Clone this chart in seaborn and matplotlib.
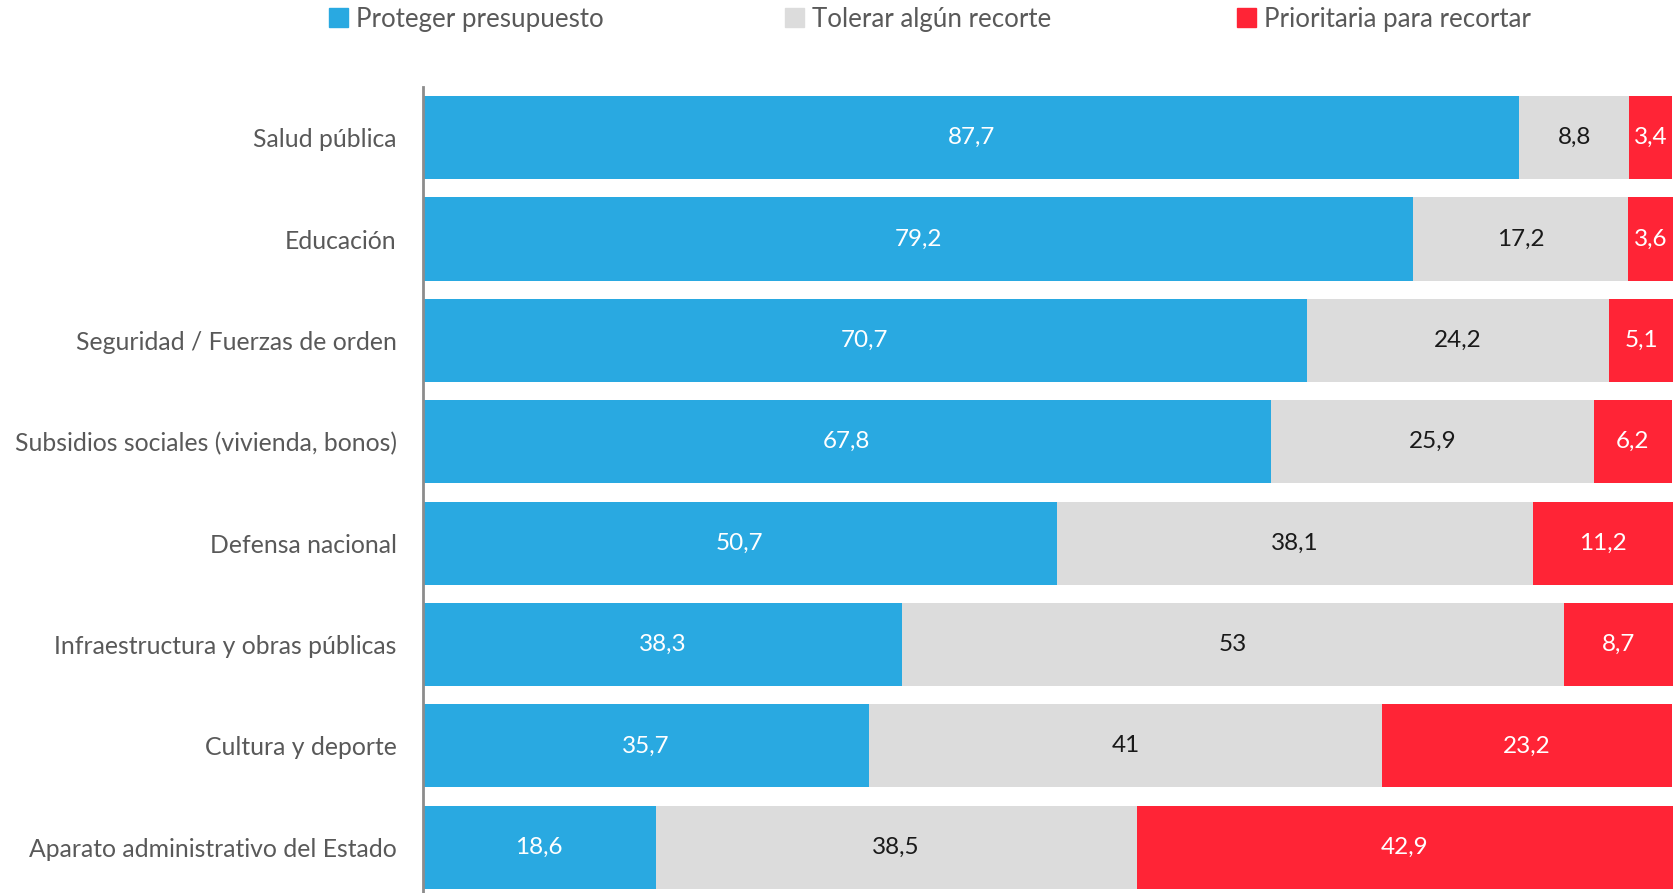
import pandas as pd
import matplotlib.pyplot as plt
import matplotlib.patches as mpatches
import seaborn as sns

categories = ["Salud pública", "Educación", "Seguridad / Fuerzas de orden",
              "Subsidios sociales (vivienda, bonos)", "Defensa nacional",
              "Infraestructura y obras públicas", "Cultura y deporte",
              "Aparato administrativo del Estado"]
proteger = [87.7, 79.2, 70.7, 67.8, 50.7, 38.3, 35.7, 18.6]
tolerar = [8.8, 17.2, 24.2, 25.9, 38.1, 53, 41, 38.5]
prioritaria = [3.4, 3.6, 5.1, 6.2, 11.2, 8.7, 23.2, 42.9]
series_names = ["Proteger presupuesto", "Tolerar algún recorte", "Prioritaria para recortar"]
colors = ["#29A9E1", "#DCDCDC", "#FF2436"]
text_colors = ["white", "#1a1a1a", "white"]

df = pd.DataFrame({"cat": categories, "p": proteger, "t": tolerar, "r": prioritaria})
df["pt"] = df["p"] + df["t"]
df["ptr"] = df["pt"] + df["r"]

sns.set_theme(style="white")
plt.rcParams["font.family"] = ["Lato", "DejaVu Sans"]

fig = plt.figure(figsize=(16.73, 8.93), dpi=100)
ax = fig.add_axes([423 / 1673, -0.0056, 1 - 423 / 1673, 0.9082])

# stacked bars: draw cumulative totals from largest to smallest
for col, c in zip(["ptr", "pt", "p"], colors[::-1]):
    sns.barplot(data=df, y="cat", x=col, color=c, orient="h", width=0.82,
                saturation=1, ax=ax, linewidth=0)

# value labels centred on each segment
for i, row in df.iterrows():
    starts = [0, row["p"], row["pt"]]
    vals = [row["p"], row["t"], row["r"]]
    for s, v, tc in zip(starts, vals, text_colors):
        lab = f"{v:g}".replace(".", ",")
        ax.text(s + v / 2, i, lab, ha="center", va="center", color=tc, fontsize=17.5)

ax.set_xlim(0, 100)
ax.set_ylim(7.5, -0.5)
ax.set_xlabel("")
ax.set_ylabel("")
ax.set_xticks([])
ax.tick_params(axis="y", length=0, pad=19, labelsize=17.8, labelcolor="#595959")
for s in ["top", "right", "bottom"]:
    ax.spines[s].set_visible(False)
ax.spines["left"].set_color("#8c8c8c")
ax.spines["left"].set_linewidth(2)

# legend, one entry per column
for name, c, xpos in zip(series_names, colors, [329, 785, 1237]):
    h = mpatches.Patch(color=c, label=name)
    fig.legend(handles=[h], loc="center left", bbox_to_anchor=(xpos / 1673, 1 - 19 / 893),
               frameon=False, fontsize=18.6, labelcolor="#595959", handlelength=0.75,
               handleheight=0.75, handletextpad=0.3, borderaxespad=0, borderpad=0)

fig.savefig("out.png", dpi=100)
